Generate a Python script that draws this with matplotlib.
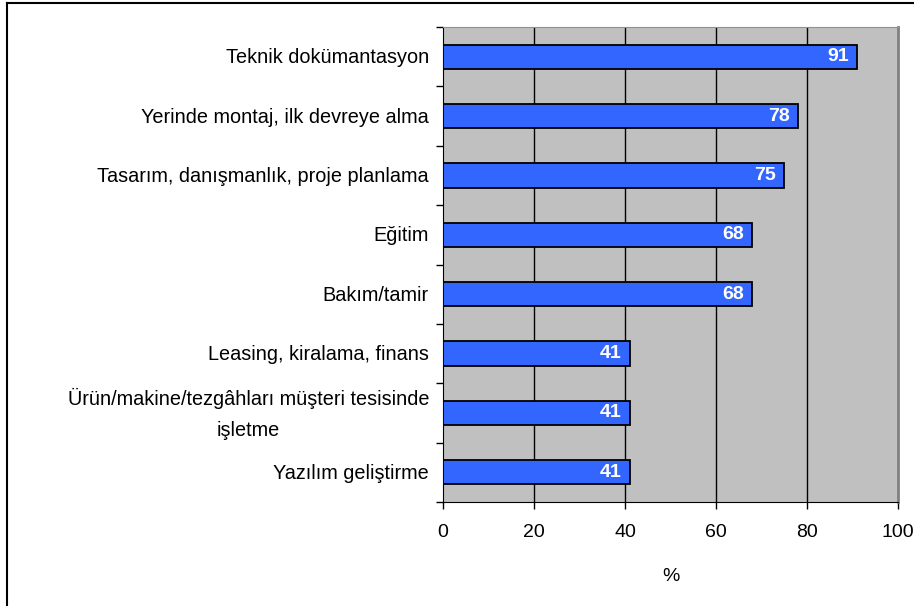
import numpy as np
from matplotlib import pyplot as plt
from matplotlib.lines import Line2D

plt.rcParams['font.family'] = ['Liberation Sans', 'DejaVu Sans']

categories = ["Teknik dokümantasyon",
              "Yerinde montaj, ilk devreye alma",
              "Tasarım, danışmanlık, proje planlama",
              "Eğitim",
              "Bakım/tamir",
              "Leasing, kiralama, finans",
              "Ürün/makine/tezgâhları müşteri tesisinde\nişletme",
              "Yazılım geliştirme"]
values = [91, 78, 75, 68, 68, 41, 41, 41]
xticks = [0, 20, 40, 60, 80, 100]

fig = plt.figure(figsize=(9.14, 6.06), dpi=100)
ax = fig.add_axes([443/914, 1-502/606, 455/914, 475/606])
ax.set_facecolor('#C0C0C0')

pos = np.arange(len(categories))
bars = ax.barh(pos, values, height=0.41, color='#3366FF', edgecolor='black', linewidth=1.3, zorder=3)

for b, v in zip(bars, values):
    ax.text(b.get_width() - 1.8, b.get_y() + b.get_height()/2, str(v),
            ha='right', va='center', color='white', fontsize=14, fontweight='bold', zorder=4)

ax.set_ylim(len(categories) - 0.5, -0.5)
ax.set_xlim(0, 100)
ax.set_xticks(xticks)
ax.set_yticks(pos)
ax.set_yticklabels([])
ax.tick_params(axis='y', length=0)
# category labels (centred lines for the two-line one)
for p, name in zip(pos, categories):
    ax.annotate(name, xy=(0, p), xycoords=('axes fraction', 'data'),
                xytext=(-14, -1), textcoords='offset pixels',
                ha='right', va='center', multialignment='center',
                fontsize=14.3, linespacing=1.75)
# category separator ticks
ax.set_yticks(np.arange(len(categories) + 1) - 0.5, minor=True)
ax.tick_params(axis='y', which='minor', length=5, width=1, direction='out')
ax.tick_params(axis='x', labelsize=14, length=5, width=1, direction='out', pad=11)

for x in xticks[1:-1]:
    ax.axvline(x, color='black', linewidth=1, zorder=1)

ax.spines['left'].set_color('black')
ax.spines['bottom'].set_color('black')
ax.spines['top'].set_color('#909090')
ax.spines['right'].set_color('#808080')
ax.spines['right'].set_linewidth(2)

ax.set_xlabel('%', fontsize=14, labelpad=19)

# outer frame (top and left edges visible)
fig.add_artist(Line2D([7/914, 1], [1-3/606, 1-3/606], color='black', linewidth=1.5))
fig.add_artist(Line2D([7/914, 7/914], [0, 1-3/606], color='black', linewidth=1.5))

plt.savefig('out.png', dpi=100)
